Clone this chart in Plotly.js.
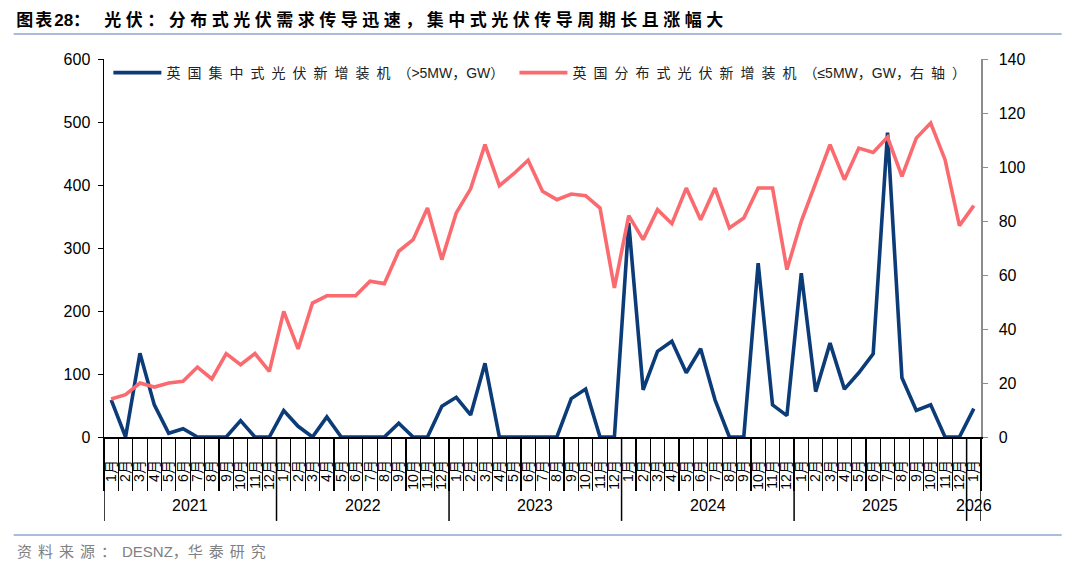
<!DOCTYPE html>
<html><head><meta charset="utf-8">
<script src="https://cdn.plot.ly/plotly-3.0.1.min.js"></script>
<style>html,body{margin:0;padding:0;background:#fff}#chart{width:1080px;height:565px}</style>
</head><body><div id="chart"></div>
<script>
const years = ['2021','2022','2023','2024','2025','2026'];
const monthsPerYear = [12,12,12,12,12,1];
const monthNames = ['1月','2月','3月','4月','5月','6月','7月','8月','9月','10月','11月','12月'];

// 英国集中式光伏新增装机（>5MW，GW） left axis
const utilityScale = [59,0,133,51,6,13,0,0,0,26,0,0,
  42,17,0,32,0,0,0,0,22,0,0,49,
  63,35,117,0,0,0,0,0,61,76,0,0,
  340,75,136,152,102,140,59,0,0,276,51,34,
  260,72,149,76,102,132,483,94,42,51,0,0,
  45];
// 英国分布式光伏新增装机（≤5MW，GW，右轴） right axis
const smallScale = [14.1,15.7,20,18.5,20,20.6,25.9,21.5,30.9,26.8,30.9,24.3,
  46.5,32.6,49.6,52.3,52.3,52.3,57.7,56.8,68.8,73.1,84.8,65.7,
  83,91.9,108.3,93.1,97.5,102.5,91,87.9,90,89.4,84.8,55.2,
  82,73.1,84.2,79,92.2,80.5,92.2,77.4,81.1,92.2,92.2,62,
  79.9,94.3,108.3,95.3,107,105.4,111.1,96.5,110.7,116.3,102.7,78.3,
  85.7];

const xKeys = [], xMonths = [], yearStarts = [];
years.forEach((y, i) => {
  yearStarts.push(xKeys.length);
  for (let m = 0; m < monthsPerYear[i]; m++) { xKeys.push(y + '-' + monthNames[m]); xMonths.push(monthNames[m]); }
});
const nCat = xKeys.length;

const LS = 'letter-spacing:7px';
const traces = [
  {x:xKeys, y:utilityScale, type:'scatter', mode:'lines', yaxis:'y',
   name:'<span style="'+LS+'">英国集中式光伏新增装机</span>（>5MW，GW）',
   line:{color:'#0C3C78', width:3.6}, legend:'legend', showlegend:true},
  {x:xKeys, y:smallScale, type:'scatter', mode:'lines', yaxis:'y2',
   name:'<span style="'+LS+'">英国分布式光伏新增装机</span>（≤5MW，GW，<span style="'+LS+'">右轴</span>）',
   line:{color:'#FA6A6E', width:3.6}, legend:'legend2', showlegend:true}
];

const F = 'Liberation Sans, Arial, Noto Sans CJK SC, sans-serif';

const shapes = [
  {type:'line', xref:'paper', yref:'paper', x0:-0.103, x1:1.092, y0:1.066, y1:1.066, line:{color:'#A9BCD9', width:2}},
  {type:'line', xref:'paper', yref:'paper', x0:-0.103, x1:1.092, y0:-0.259, y1:-0.259, line:{color:'#A9BCD9', width:2}}
];
const annotations = [];
const bounds = yearStarts.concat([nCat]);
bounds.forEach(b => shapes.push({type:'line', xref:'x', yref:'paper', x0:b-0.5, x1:b-0.5, y0:0, y1:-0.222,
  line:{color:'#000', width:1.5}}));
years.forEach((y, i) => {
  const s = yearStarts[i], e = s + monthsPerYear[i] - 1;
  annotations.push({text:y, xref:'x', yref:'paper', x:(s+e)/2, y:-0.18, xanchor:'center', yanchor:'middle',
    showarrow:false, font:{size:16, family:F, color:'#000'}});
});
annotations.push({text:'<span style="letter-spacing:6px">资料来源：</span>DESNZ，<span style="letter-spacing:6px">华泰研究</span>',
  xref:'paper', yref:'paper', x:-0.101, xanchor:'left', y:-0.302, yanchor:'middle', showarrow:false,
  font:{size:15, family:F, color:'#808080'}});

const layout = {
  width:1080, height:565,
  margin:{l:104, r:99, t:59, b:128},
  paper_bgcolor:'#fff', plot_bgcolor:'#fff',
  showlegend:true,
  font:{family:F, color:'#000'},
  title:{text:'<b><span style="letter-spacing:2px">图表</span>28：   <span style="letter-spacing:4.5px">光伏：分布式光伏需求传导迅速，集中式光伏传导周期长且涨幅大</span></b>',
    x:0.015, xanchor:'left', y:0.965, yanchor:'middle', font:{size:17, family:F, color:'#000'}},
  xaxis:{type:'category', range:[-0.5, nCat-0.5], tickmode:'array', tickvals:xKeys, ticktext:xMonths,
    tickson:'boundaries', showline:true, linecolor:'#000', linewidth:1.5,
    ticks:'outside', ticklen:52, tickcolor:'#000', tickwidth:1.2, tickangle:-90, ticklabelstandoff:16,
    tickfont:{size:14, family:F, color:'#000'}, showgrid:false, zeroline:false},
  yaxis:{range:[0,600], dtick:100, showline:true, linecolor:'#000', linewidth:1.5,
    ticks:'outside', ticklen:5, tickcolor:'#000', showgrid:false, zeroline:false, ticklabelstandoff:4,
    tickfont:{size:16, family:F, color:'#000'}},
  yaxis2:{range:[0,140], dtick:20, overlaying:'y', side:'right', showline:true,
    linecolor:'#8c8c8c', linewidth:1.5, ticks:'outside', ticklen:5, tickcolor:'#8c8c8c',
    showgrid:false, zeroline:false, ticklabelstandoff:8,
    tickfont:{size:16, family:F, color:'#000'}},
  legend:{x:0.005, xanchor:'left', y:0.963, yanchor:'middle', orientation:'h', itemwidth:48,
    bgcolor:'rgba(0,0,0,0)', font:{size:14, family:F, color:'#222'}},
  legend2:{x:0.468, xanchor:'left', y:0.963, yanchor:'middle', orientation:'h', itemwidth:48,
    bgcolor:'rgba(0,0,0,0)', font:{size:14, family:F, color:'#222'}},
  shapes:shapes,
  annotations:annotations
};
Plotly.newPlot('chart', traces, layout, {displayModeBar:false, staticPlot:true});
</script></body></html>
